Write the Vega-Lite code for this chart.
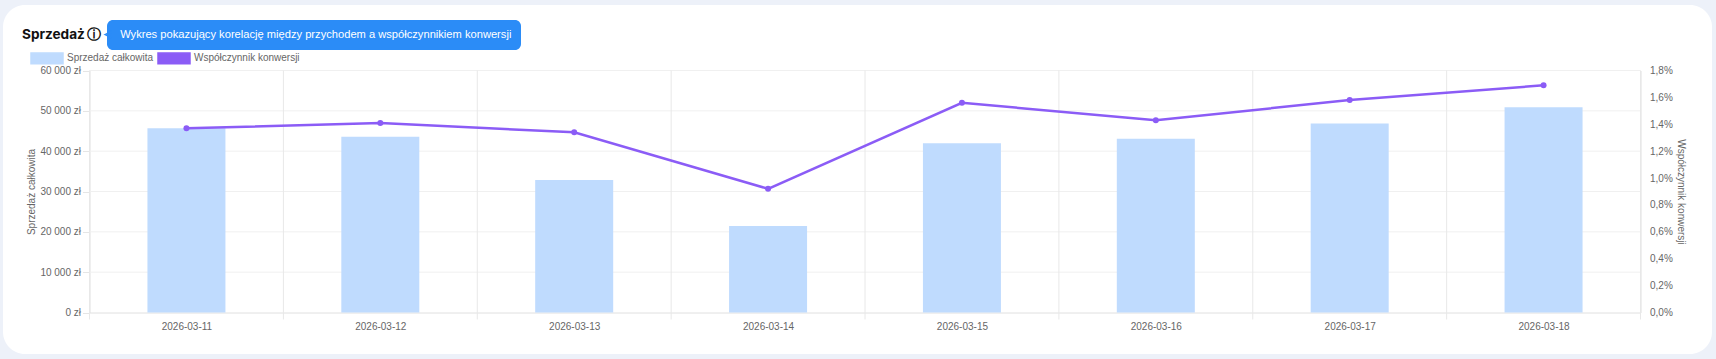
{
"$schema":"https://vega.github.io/schema/vega-lite/v6.json",
"width":1709,"height":349,
"autosize":{"type":"none"},
"padding":{"left":3,"top":5,"right":4,"bottom":5},
"background":"#edf1f9",
"view":{"fill":"#ffffff","stroke":null,"cornerRadius":22},
"config":{"font":"Liberation Sans"},
"title":{"text":"Sprzedaż\u2009ⓘ","anchor":"start","frame":"group","orient":"top","offset":-37,"dx":19,"font":"Inter","fontSize":13.6,"fontWeight":700,"color":"#111111"},
"datasets":{
"main":[
{"date":"2026-03-11","sprzedaz":45700,"konwersja":1.37},
{"date":"2026-03-12","sprzedaz":43600,"konwersja":1.41},
{"date":"2026-03-13","sprzedaz":32850,"konwersja":1.34},
{"date":"2026-03-14","sprzedaz":21450,"konwersja":0.92},
{"date":"2026-03-15","sprzedaz":41950,"konwersja":1.56},
{"date":"2026-03-16","sprzedaz":43050,"konwersja":1.43},
{"date":"2026-03-17","sprzedaz":46850,"konwersja":1.58},
{"date":"2026-03-18","sprzedaz":50900,"konwersja":1.69}
],
"hgrid":[{"v":10000},{"v":20000},{"v":30000},{"v":40000},{"v":50000},{"v":60000}],
"vgrid":[{"t":"2026-03-10T12:00:00Z"},{"t":"2026-03-11T12:00:00Z"},{"t":"2026-03-12T12:00:00Z"},{"t":"2026-03-13T12:00:00Z"},{"t":"2026-03-14T12:00:00Z"},{"t":"2026-03-15T12:00:00Z"},{"t":"2026-03-16T12:00:00Z"},{"t":"2026-03-17T12:00:00Z"},{"t":"2026-03-18T12:00:00Z"}]
},
"resolve":{"scale":{"y":"independent"},"axis":{"y":"independent"}},
"layer":[
{"data":{"name":"hgrid"},"mark":{"type":"rule","color":"#f0f0f0","strokeWidth":1},
 "encoding":{
  "y":{"field":"v","type":"quantitative","scale":{"domain":[0,60000],"range":[307.5,65.5]},"axis":null},
  "x":{"datum":{"year":2026,"month":3,"date":10,"hours":12,"utc":true},"type":"temporal","scale":{"type":"utc","padding":0,"nice":false,"domain":[{"year":2026,"month":3,"date":10,"hours":12,"utc":true},{"year":2026,"month":3,"date":18,"hours":12,"utc":true}],"range":[86.5,1637.5]},
   "axis":{"values":["2026-03-11","2026-03-12","2026-03-13","2026-03-14","2026-03-15","2026-03-16","2026-03-17","2026-03-18"],"labelExpr":"utcFormat(datum.value,'%Y-%m-%d')","title":null,"grid":false,"ticks":false,"domain":true,"domainColor":"#e0e0e0","orient":"bottom","offset":-41.5,"labelFontSize":10,"labelColor":"#666666","labelPadding":9,"labelFlush":false,"labelOverlap":false}},
  "x2":{"datum":{"year":2026,"month":3,"date":18,"hours":12,"utc":true}}
 }},
{"data":{"name":"vgrid"},"mark":{"type":"rule","color":"#e8e8e8","strokeWidth":1},
 "encoding":{
  "x":{"field":"t","type":"temporal"},
  "y":{"datum":-1735,"type":"quantitative","scale":{"domain":[0,60000],"range":[307.5,65.5]},"axis":null},
  "y2":{"datum":60000}
 }},
{"data":{"name":"main"},"mark":{"type":"bar","width":78},
 "encoding":{
  "x":{"field":"date","type":"temporal"},
  "y":{"field":"sprzedaz","type":"quantitative","scale":{"domain":[0,60000],"range":[307.5,65.5]},"axis":{"orient":"left","offset":-86.5,"title":"Sprzedaż całkowita","titleFontSize":10,"titleFontWeight":"normal","titleColor":"#666666","titlePadding":3.5,"values":[0,10000,20000,30000,40000,50000,60000],"labelExpr":"replace(format(datum.value,',d'),',',' ')+' zł'","labelFontSize":10,"labelColor":"#666666","labelPadding":2,"tickSize":7,"tickColor":"#e5e5e5","domainColor":"#e0e0e0","grid":false}},
  "color":{"datum":"Sprzedaż całkowita","type":"nominal","scale":{"domain":["Sprzedaż całkowita","Współczynnik konwersji"],"range":["#bfdbfe","#8b5cf6"]},
   "legend":{"orient":"none","legendX":27,"legendY":36,"direction":"horizontal","title":null,"symbolType":"M-1,-0.33H1V0.33H-1Z","symbolSize":1024,"labelFontSize":10,"labelColor":"#666666","labelOffset":3,"columnPadding":1,"padding":0,"symbolOpacity":1,
    "encoding":{"symbols":{"update":{"stroke":{"value":"#7c4df0"},"strokeWidth":{"signal":"datum.value=='Współczynnik konwersji'?1.5:0"}}}}}}
 }},
{"data":{"name":"main"},"mark":{"type":"line","color":"#8b5cf6","strokeWidth":2.5,"point":{"filled":true,"size":36,"color":"#8b5cf6"}},
 "encoding":{
  "x":{"field":"date","type":"temporal"},
  "y":{"field":"konwersja","type":"quantitative","scale":{"domain":[0,1.8],"range":[307.5,65.5]},"axis":{"orient":"right","offset":-71.5,"title":"Współczynnik konwersji","titleFontSize":10,"titleFontWeight":"normal","titleColor":"#666666","titlePadding":3.5,"values":[0,0.2,0.4,0.6,0.8,1,1.2,1.4,1.6,1.8],"labelExpr":"replace(format(datum.value,'.1f'),'.',',')+'%'","labelFontSize":10,"labelColor":"#666666","labelPadding":9,"tickSize":0,"domainColor":"#e0e0e0","grid":false}},
  "color":{"datum":"Współczynnik konwersji","type":"nominal"}
 }},
{"data":{"name":"main"},"mark":{"type":"point","opacity":0,"size":1},
 "encoding":{
  "x":{"field":"date","type":"temporal"},
  "y":{"field":"sprzedaz","type":"quantitative","scale":{"domain":[0,60000],"range":[307.5,65.5]},"axis":null},
  "shape":{"datum":"Wykres pokazujący korelację między przychodem a współczynnikiem konwersji","type":"nominal","scale":{"range":["M-1,0L1,-1V1Z"]},
   "legend":{"orient":"none","legendX":104,"legendY":15,"title":null,"fillColor":"#2b8cf7","cornerRadius":6,"padding":9,"symbolSize":36,"symbolOffset":-13.5,"symbolFillColor":"#2b8cf7","symbolStrokeColor":"#2b8cf7","symbolOpacity":1,"labelOffset":6.5,"labelColor":"#ffffff","labelFont":"Liberation Sans","labelFontSize":11.15,"labelLimit":600,"labelExpr":"datum.label+'\u00a0\u00a0'"}}
 }}
]
}
